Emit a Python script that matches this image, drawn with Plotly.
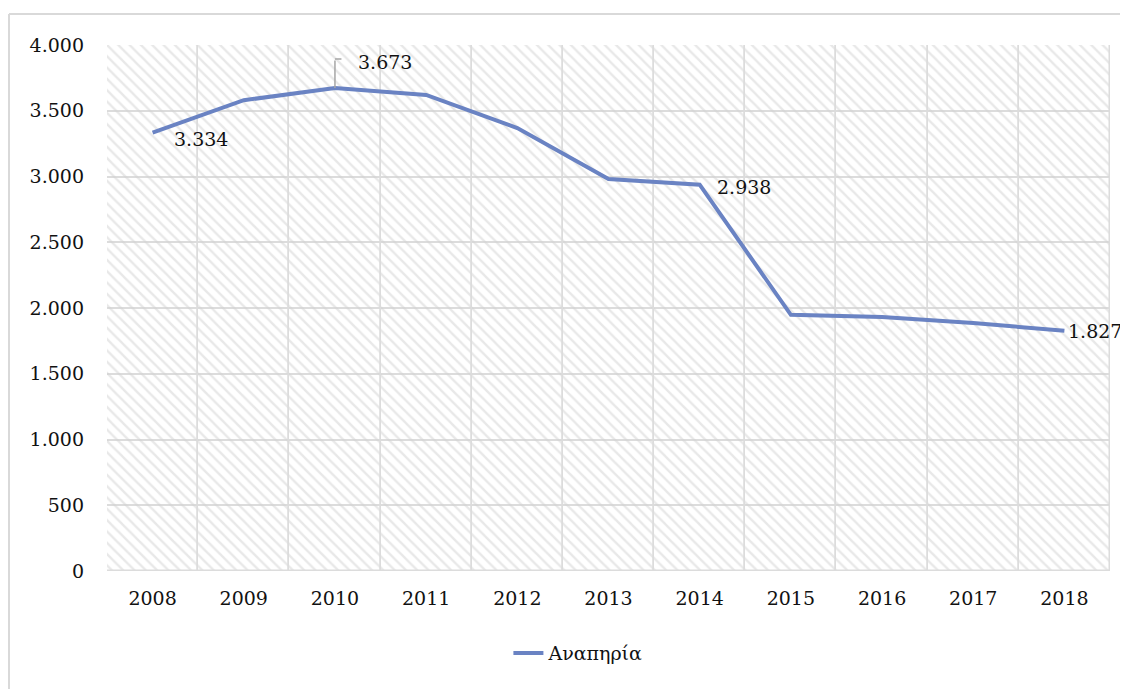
import plotly.graph_objects as go

years = ["2008", "2009", "2010", "2011", "2012", "2013", "2014", "2015", "2016", "2017", "2018"]
values = [3334, 3580, 3673, 3620, 3368, 2981, 2938, 1948, 1932, 1885, 1827]
y_ticks = [0, 500, 1000, 1500, 2000, 2500, 3000, 3500, 4000]
y_max = 4000

# points that carry a data label: index -> (x offset px, y offset px)
labelled = {0: (48, -6), 2: (50, 26), 6: (44, -2), 10: (31, 0)}

line_color = "#6a83c3"
grid_color = "#dcdcdc"
font_family = "DejaVu Serif"
text_font = dict(family=font_family, size=19, color="#111111")

fig = go.Figure()

# hatched plot background (Excel style), one cell per category
fig.add_trace(
    go.Bar(
        x=years,
        y=[y_max] * len(years),
        width=1,
        marker=dict(
            color="rgba(0,0,0,0)",
            line=dict(color=grid_color, width=1.5),
            pattern=dict(shape="\\", fgcolor="#d2d2d2", bgcolor="rgba(0,0,0,0)",
                         size=8, solidity=0.3, fillmode="overlay"),
        ),
        showlegend=False,
        hoverinfo="skip",
    )
)

fig.add_trace(
    go.Scatter(
        x=years,
        y=values,
        mode="lines",
        name="Αναπηρία",
        line=dict(color=line_color, width=4),
    )
)

# annotations on a category axis take the category index
for i, (dx, dy) in labelled.items():
    fig.add_annotation(
        x=i, y=values[i],
        text=f"{values[i]:,}".replace(",", "."),
        showarrow=False,
        xshift=dx, yshift=dy,
        font=text_font,
    )

# elbow leader line for the 2010 label
fig.add_annotation(
    x=2, y=values[2], text="",
    showarrow=True, arrowhead=0, arrowwidth=1.5, arrowcolor="#a6a6a6",
    ax=0, ay=-29,
)
fig.add_annotation(
    x=2, y=values[2], text="", yshift=29,
    showarrow=True, arrowhead=0, arrowwidth=1.5, arrowcolor="#a6a6a6",
    ax=8, ay=0,
)

# outer chart border (top and left visible)
border_y = 1.0 + 31 / 526
border_x = -98 / 1003
fig.add_shape(
    type="line", xref="paper", yref="paper",
    x0=border_x, x1=1.05, y0=border_y, y1=border_y,
    line=dict(color="#d9d9d9", width=2),
)
fig.add_shape(
    type="line", xref="paper", yref="paper",
    x0=border_x, x1=border_x, y0=border_y, y1=-0.25,
    line=dict(color="#d9d9d9", width=2),
)

fig.update_layout(
    width=1120,
    height=681,
    margin=dict(l=99, r=18, t=37, b=118),
    paper_bgcolor="white",
    plot_bgcolor="white",
    separators=",.",
    font=text_font,
    bargap=0,
    showlegend=True,
    legend=dict(
        orientation="h",
        x=0.47, xanchor="center",
        y=-0.12, yanchor="top",
        font=text_font,
    ),
)

fig.update_xaxes(
    type="category",
    range=[-0.5, len(years) - 0.5],
    showgrid=False,
    showline=False,
    ticks="",
    tickfont=text_font,
    ticklabelstandoff=14,
)
fig.update_yaxes(
    range=[0, y_max],
    tickvals=y_ticks,
    tickformat=",d",
    showgrid=True,
    gridcolor=grid_color,
    gridwidth=1.5,
    zeroline=False,
    showline=False,
    ticks="",
    tickfont=text_font,
    ticklabelstandoff=22,
)

fig.write_html("out.html")
